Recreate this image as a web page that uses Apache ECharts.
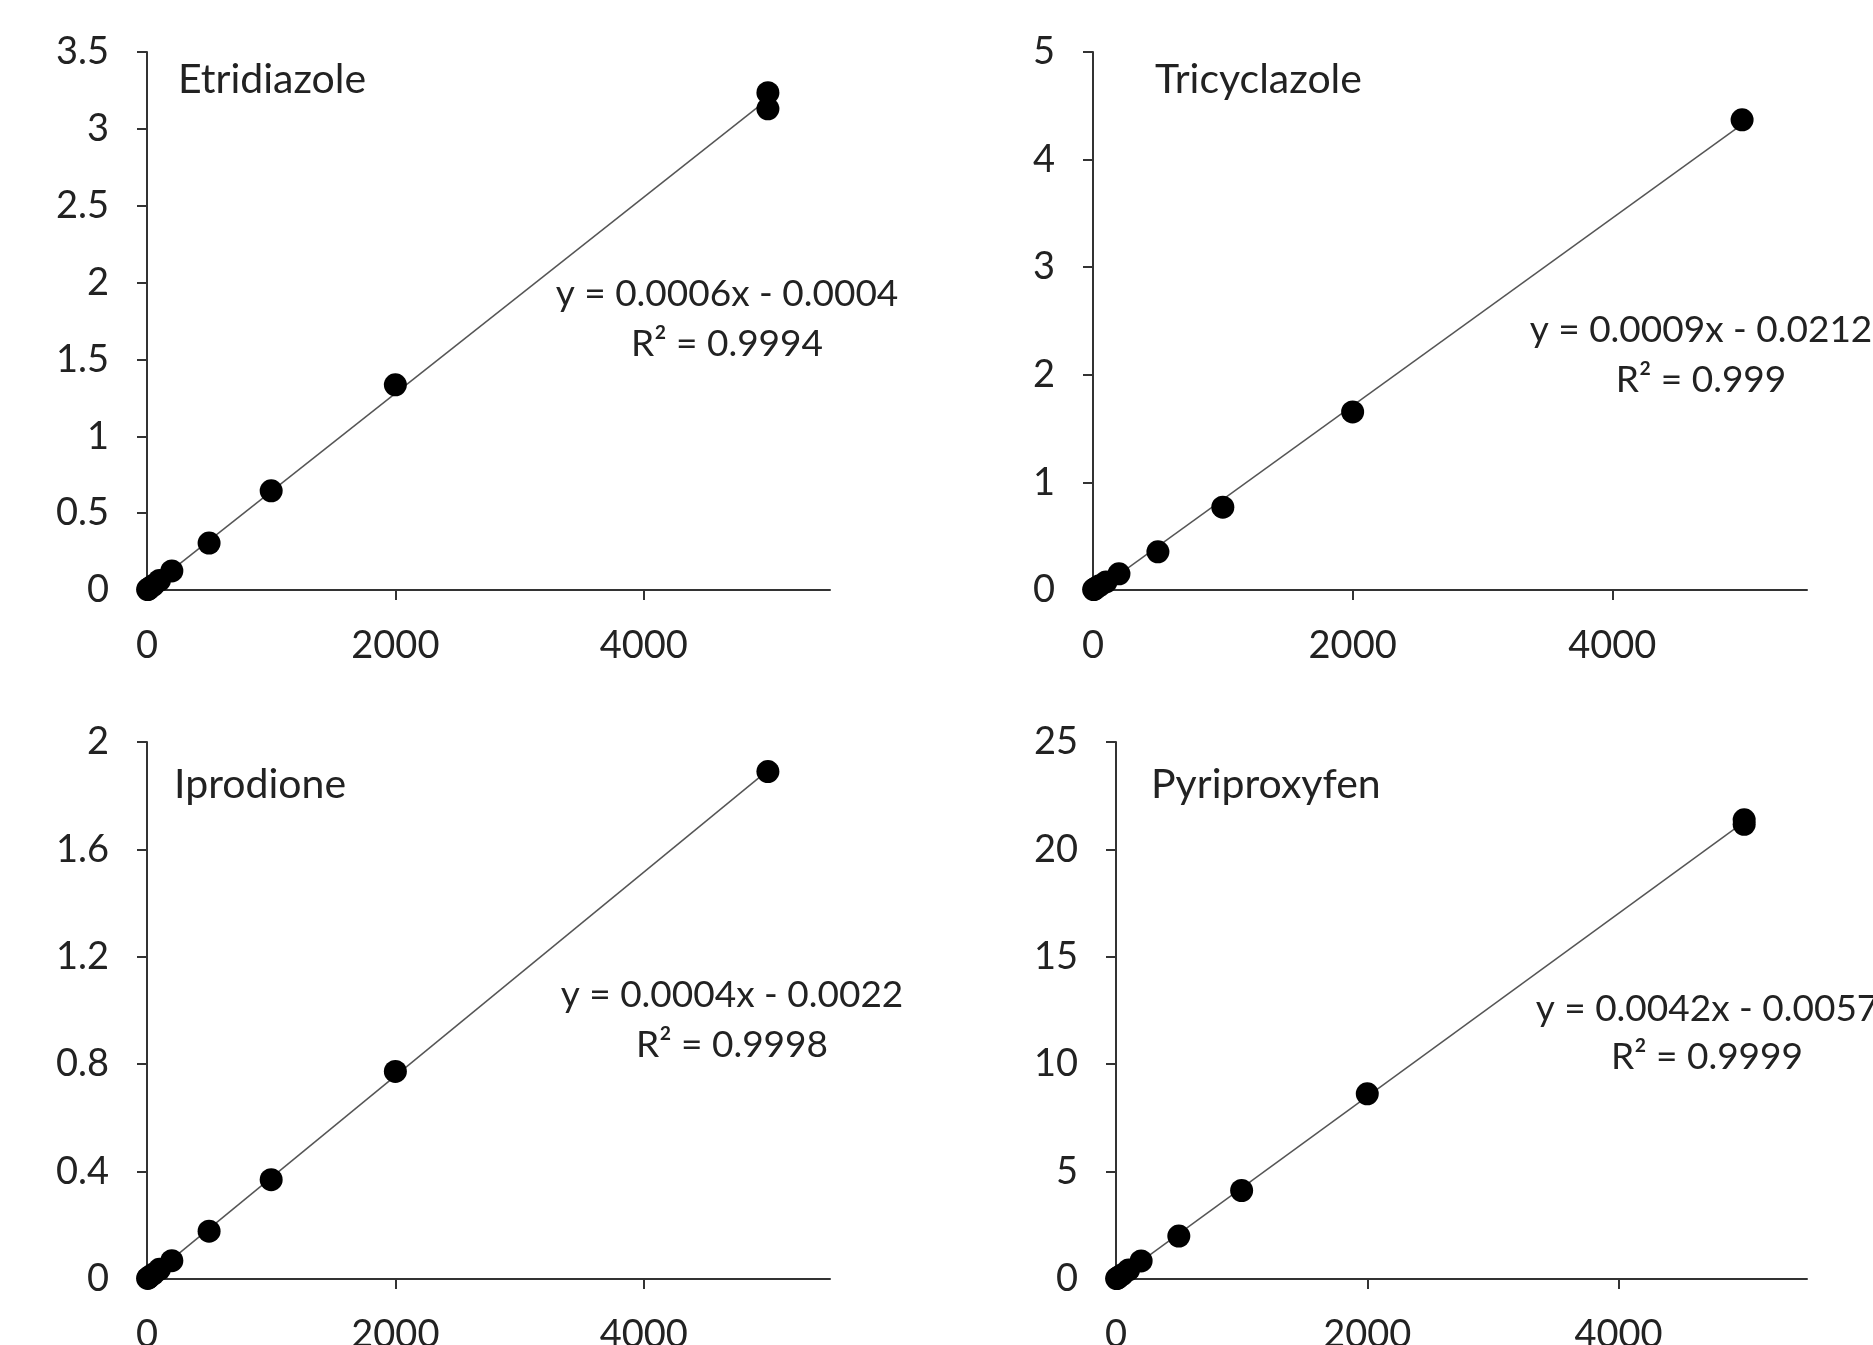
<!DOCTYPE html>
<html>
<head>
<meta charset="utf-8">
<script src="https://cdn.jsdelivr.net/npm/echarts@6/dist/echarts.min.js"></script>
<style>
  html, body { margin: 0; padding: 0; background: #fff; }
  #chart { width: 1873px; height: 1345px; }
</style>
</head>
<body>
<div id="chart"></div>
<script>
// calibration data
var compounds = ['Etridiazole', 'Tricyclazole', 'Iprodione', 'Pyriproxyfen'];

var etridiazoleX = [5, 10, 20, 50, 100, 200, 500, 1000, 2000, 5000, 5000];
var etridiazoleY = [0.003, 0.006, 0.012, 0.03, 0.062, 0.124, 0.305, 0.645, 1.335, 3.235, 3.13];

var tricyclazoleX = [5, 10, 20, 50, 100, 200, 500, 1000, 2000, 5000];
var tricyclazoleY = [0.004, 0.008, 0.017, 0.04, 0.075, 0.15, 0.355, 0.77, 1.655, 4.37];

var iprodioneX = [5, 10, 20, 50, 100, 200, 500, 1000, 2000, 5000];
var iprodioneY = [0.002, 0.004, 0.008, 0.018, 0.036, 0.068, 0.178, 0.37, 0.773, 1.89];

var pyriproxyfenX = [5, 10, 20, 50, 100, 200, 500, 1000, 2000, 5000, 5000];
var pyriproxyfenY = [0.02, 0.04, 0.08, 0.2, 0.42, 0.84, 2.0, 4.12, 8.62, 21.38, 21.17];

var equations = ['y = 0.0006x - 0.0004', 'y = 0.0009x - 0.0212', 'y = 0.0004x - 0.0022', 'y = 0.0042x - 0.0057'];
var r2Labels = ['R² = 0.9994', 'R² = 0.999', 'R² = 0.9998', 'R² = 0.9999'];

var yMax = [3.5, 5, 2, 25];
var yStep = [0.5, 1, 0.4, 5];
var xMax = 5500;
var xTicks = [0, 2000, 4000];

var allX = [etridiazoleX, tricyclazoleX, iprodioneX, pyriproxyfenX];
var allY = [etridiazoleY, tricyclazoleY, iprodioneY, pyriproxyfenY];

var chart = echarts.init(document.getElementById('chart'));
var font = 'Lato, "Open Sans", sans-serif';
var tickFs = 38, titleFs = 41, eqFs = 37;

// panel boxes (px)
var grids = [
  { left: 147, top: 52, width: 683, height: 538 },
  { left: 1093, top: 52, width: 714, height: 538 },
  { left: 147, top: 742, width: 683, height: 537 },
  { left: 1116, top: 742, width: 691, height: 537 }
].map(function (g) { g.outerBoundsMode = 'none'; g.containLabel = false; return g; });
var titlePos = [[178, 80], [1155, 80], [174, 785], [1151, 785]];
var eqPos = [[727, 294, 344], [1701, 330, 380], [732, 995, 1045], [1707, 1009, 1057]];

function fit(xs, ys) {
  var n = xs.length, sx = 0, sy = 0, sxx = 0, sxy = 0;
  for (var i = 0; i < n; i++) {
    sx += xs[i]; sy += ys[i]; sxx += xs[i] * xs[i]; sxy += xs[i] * ys[i];
  }
  var b = (n * sxy - sx * sy) / (n * sxx - sx * sx);
  var a = (sy - b * sx) / n;
  var x0 = Math.min.apply(null, xs), x1 = Math.max.apply(null, xs);
  return [[x0, a + b * x0], [x1, a + b * x1]];
}

var xAxis = [], yAxis = [], series = [], graphic = [];

for (var k = 0; k < 4; k++) {
  xAxis.push({
    type: 'value', gridIndex: k, min: 0, max: xMax, interval: 2000,
    splitLine: { show: false },
    axisLine: { lineStyle: { color: '#333', width: 2 } },
    axisTick: { customValues: xTicks, length: 10, lineStyle: { color: '#333', width: 2 } },
    axisLabel: {
      customValues: xTicks, color: '#222', fontFamily: font, fontSize: tickFs, margin: 37,
      formatter: function (v) { return String(v); }
    }
  });
  yAxis.push({
    type: 'value', gridIndex: k, min: 0, max: yMax[k], interval: yStep[k],
    splitLine: { show: false },
    axisLine: { show: true, lineStyle: { color: '#333', width: 2 } },
    axisTick: { show: true, length: 10, lineStyle: { color: '#333', width: 2 } },
    axisLabel: { color: '#222', fontFamily: font, fontSize: tickFs, margin: 38 }
  });

  var pts = allX[k].map(function (x, i) { return [x, allY[k][i]]; });
  series.push({
    type: 'line', xAxisIndex: k, yAxisIndex: k, data: fit(allX[k], allY[k]),
    showSymbol: false, silent: true, z: 1,
    lineStyle: { color: '#555', width: 1.5 }
  });
  series.push({
    type: 'scatter', xAxisIndex: k, yAxisIndex: k, data: pts,
    symbol: 'circle', symbolSize: 23, z: 2,
    itemStyle: { color: '#000', opacity: 1 }
  });

  graphic.push({
    type: 'text', x: titlePos[k][0], y: titlePos[k][1],
    style: { text: compounds[k], fill: '#222', font: titleFs + 'px ' + font, textAlign: 'left', textVerticalAlign: 'middle' }
  });
  graphic.push({
    type: 'text', x: eqPos[k][0], y: eqPos[k][1],
    style: { text: equations[k], fill: '#222', font: eqFs + 'px ' + font, textAlign: 'center', textVerticalAlign: 'middle' }
  });
  graphic.push({
    type: 'text', x: eqPos[k][0], y: eqPos[k][2],
    style: { text: r2Labels[k], fill: '#222', font: eqFs + 'px ' + font, textAlign: 'center', textVerticalAlign: 'middle' }
  });
}

chart.setOption({
  backgroundColor: '#fff',
  animation: false,
  grid: grids,
  xAxis: xAxis,
  yAxis: yAxis,
  series: series,
  graphic: graphic
});
</script>
</body>
</html>
